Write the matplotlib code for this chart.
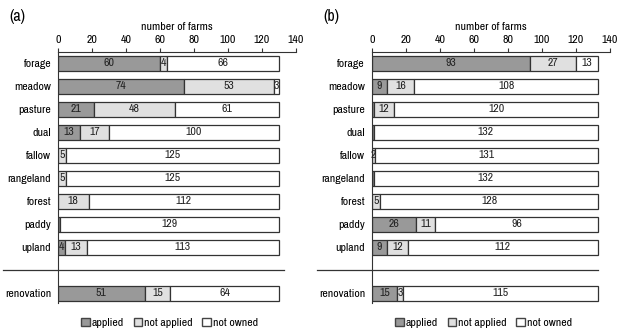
import numpy as np
import matplotlib.pyplot as plt
from matplotlib.lines import Line2D
from matplotlib.patches import Patch
from matplotlib import font_manager

categories = ['forage', 'meadow', 'pasture', 'dual', 'fallow', 'rangeland',
              'forest', 'paddy', 'upland', 'renovation']
series = ['applied', 'not applied', 'not owned']

a_applied     = [60, 74, 21, 13, 0, 0, 0, 1, 4, 51]
a_not_applied = [4, 53, 48, 17, 5, 5, 18, 0, 13, 15]
a_not_owned   = [66, 3, 61, 100, 125, 125, 112, 129, 113, 64]

b_applied     = [93, 9, 1, 1, 0, 1, 0, 26, 9, 15]
b_not_applied = [27, 16, 12, 0, 2, 0, 5, 11, 12, 3]
b_not_owned   = [13, 108, 120, 132, 131, 132, 128, 96, 112, 115]

xticks = [0, 20, 40, 60, 80, 100, 120, 140]
colours = ['#999999', '#e0e0e0', '#ffffff']

# narrow sans font if there is one (reference uses an Arial Narrow look)
installed = set(f.name for f in font_manager.fontManager.ttflist)
fam = 'Liberation Sans'
for name in ['Liberation Sans Narrow', 'Arial Narrow', 'Archivo Narrow',
             'Roboto Condensed', 'Open Sans Condensed', 'PT Sans Narrow']:
    if name in installed:
        fam = name
        break
plt.rcParams['font.family'] = [fam, 'DejaVu Sans']
fs = 8.5

# row positions: 9 land uses, gap, renovation
ypos = list(range(9)) + [10]

fig = plt.figure(figsize=(6.17, 3.28), dpi=100)


def panel(left, label, data):
    ax = fig.add_axes([left, 0.0762, 0.3857, 0.7652])
    lefts = np.zeros(len(categories))
    for vals, col in zip(data, colours):
        vals = np.array(vals)
        ax.barh(ypos, vals, left=lefts, height=0.65, color=col,
                edgecolor='#333333', linewidth=0.9)
        for y, l, v in zip(ypos, lefts, vals):
            if v >= 2:
                ax.text(l + v / 2, y, str(v), ha='center', va='center',
                        fontsize=fs, color='#222222')
        lefts = lefts + vals
    ax.set_xlim(0, 140)
    ax.set_ylim(10.43, -0.48)
    ax.xaxis.tick_top()
    ax.xaxis.set_label_position('top')
    ax.set_xticks(xticks)
    ax.set_xlabel('number of farms', labelpad=4, fontsize=fs)
    ax.set_yticks(ypos)
    ax.set_yticklabels(categories)
    ax.tick_params(axis='y', length=0, pad=5, labelsize=fs)
    ax.tick_params(axis='x', length=3, pad=2, color='#333333', labelsize=fs)
    for s in ['right', 'bottom']:
        ax.spines[s].set_visible(False)
    for s in ['top', 'left']:
        ax.spines[s].set_color('#333333')
    # separator between land uses and renovation
    ax.add_line(Line2D([-0.23, 0.95], [9, 9], transform=ax.get_yaxis_transform(),
                       color='#333333', lw=0.9, clip_on=False))
    ax.text(-0.205, 1.14, label, transform=ax.transAxes, fontsize=11.5,
            ha='left', va='center')
    handles = [Patch(facecolor=c, edgecolor='#444444', label=s)
               for c, s in zip(colours, series)]
    ax.legend(handles=handles, loc='center', bbox_to_anchor=(0.47, -0.08),
              ncol=3, frameon=False, handlelength=0.7, handleheight=0.7,
              handletextpad=0.2, columnspacing=0.8, fontsize=fs,
              borderpad=0.1)
    return ax


panel(0.094, '(a)', [a_applied, a_not_applied, a_not_owned])
panel(0.6029, '(b)', [b_applied, b_not_applied, b_not_owned])

fig.savefig('out.png', dpi=100)
